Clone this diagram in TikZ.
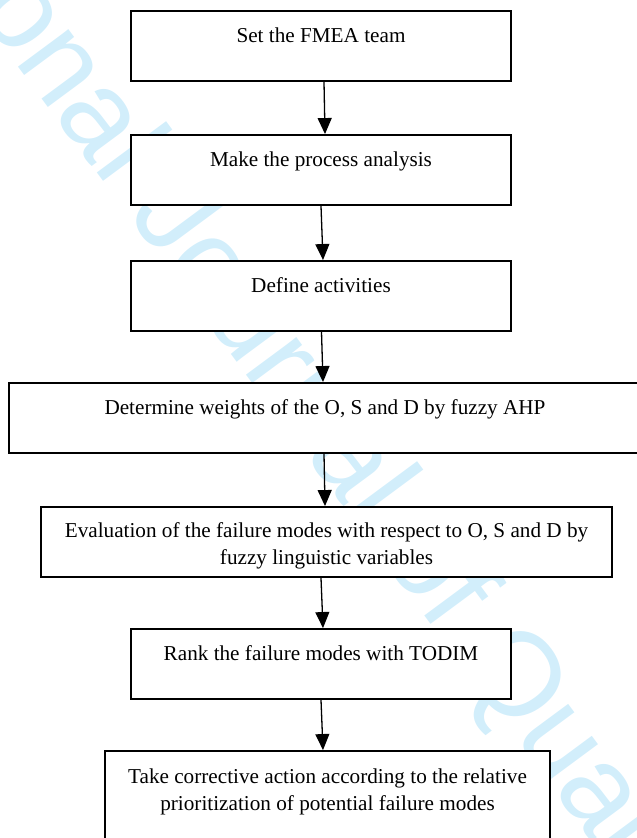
\documentclass[tikz,border=0pt]{standalone}
\usepackage{fontspec}
\setmainfont{Liberation Serif}
\newfontfamily\wmfont{Liberation Sans}
\usetikzlibrary{arrows.meta,calc}
\definecolor{wmcyan}{RGB}{210,238,251}
\begin{document}
\begin{tikzpicture}[x=1pt,y=-1pt,
  box/.style={draw=black, line width=1.9pt, fill=white, rectangle, inner sep=0pt,
    minimum height=70pt, align=center, font=\fontsize{21.2}{27}\selectfont},
  onebox/.style={box, font=\fontsize{21.2}{22.5}\selectfont},
  arr/.style={line width=1.3pt, -{Triangle[length=16pt,width=14pt]}}
]
\useasboundingbox (0,0) rectangle (637,838);
\begin{scope}
\clip (0,0) rectangle (637,838);
\node[anchor=base west, rotate=-53.5, text=wmcyan, inner sep=0pt,
  font=\wmfont\fontsize{119}{119}\selectfont] (wm) at (-26,7) {onal Journal of Quali};
\end{scope}
\node[onebox, minimum width=380pt] (b1) at (321,46) {Set the FMEA team\\\mbox{}};
\node[onebox, minimum width=380pt] (b2) at (321,170) {Make the process analysis\\\mbox{}};
\node[onebox, minimum width=380pt] (b3) at (321,296) {Define activities\\\mbox{}};
\node[onebox, minimum width=632pt] (b4) at (325,418) {Determine weights of the O, S and D by fuzzy AHP\\\mbox{}};
\node[box, minimum width=571pt] (b5) at (326.5,542) {\rule{0pt}{23.5pt}Evaluation of the failure modes with respect to O, S and D by\\fuzzy linguistic variables};
\node[onebox, minimum width=380pt] (b6) at (321,664) {Rank the failure modes with TODIM\\\mbox{}};
\node[box, minimum width=445pt, minimum height=105pt] (b7) at (327.5,803.5) {Take corrective action according to the relative\\prioritization of potential failure modes\\\mbox{}};
\draw[arr] ([xshift=3pt]b1.south) -- ([xshift=4pt]b2.north);
\draw[arr] (b2.south) -- ([xshift=2pt]b3.north);
\draw[arr] ([xshift=0.5pt]b3.south) -- ([xshift=-2pt]b4.north);
\draw[arr] ([xshift=-1pt]b4.south) -- ([xshift=-1.5pt]b5.north);
\draw[arr] ([xshift=-5.5pt]b5.south) -- ([xshift=2pt]b6.north);
\draw[arr] (b6.south) -- ([xshift=-4.5pt]b7.north);
\end{tikzpicture}
\end{document}
